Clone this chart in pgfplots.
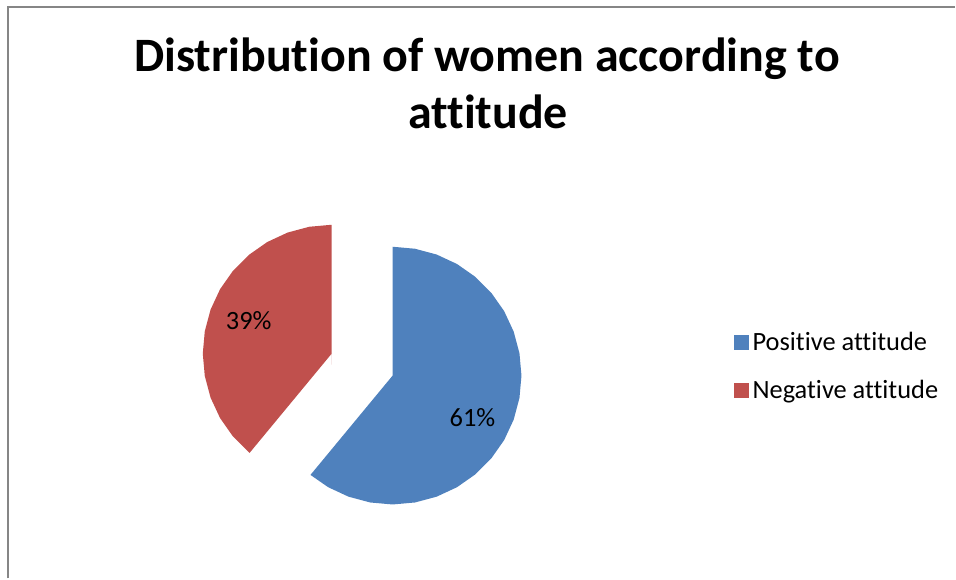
\documentclass[border=0pt]{standalone}
\usepackage{pgfplots}
\pgfplotsset{compat=1.18}
\usepackage{fontspec}
\setmainfont{Carlito}[Ligatures={NoCommon}]
\definecolor{posblue}{HTML}{4F81BD}
\definecolor{negred}{HTML}{C0504D}
\definecolor{framegray}{HTML}{868686}
\begin{document}
\begin{tikzpicture}
\begin{axis}[
  width=478pt, height=289.5pt, scale only axis,
  xmin=-362.5, xmax=593.5, ymin=-214, ymax=365,
  hide axis, clip=false,
  legend style={at={(axis cs:371.5,37)}, anchor=north west, draw=none, fill=none,
    font=\fontsize{13.2}{15}\selectfont, row sep=9.5pt,
    legend cell align=left, inner sep=0pt},
  legend image code/.code={\path[#1,draw=none] (-1.5pt,-3.75pt) rectangle (6pt,3.75pt);},
]
\path (axis cs:-362.5,-214) rectangle (axis cs:593.5,365);
% Positive attitude 61% (exploded slice)
\addplot[fill=posblue, draw=none] coordinates {
(30.5,-11) (30.5,118) (52.9,116) (74.6,110.2) (95,100.7) (113.4,87.8) (129.3,71.9)
(142.2,53.5) (151.7,33.1) (157.5,11.4) (159.5,-11) (157.5,-33.4) (151.7,-55.1)
(142.2,-75.5) (129.3,-93.9) (113.4,-109.8) (95,-122.7) (74.6,-132.2) (52.9,-138)
(30.5,-140) (8.1,-138) (-13.6,-132.2) (-34,-122.7) (-51.7,-110.4) (30.5,-11)} \closedcycle;
\addlegendentry{Positive attitude}
% Negative attitude 39% (exploded slice)
\addplot[fill=negred, draw=none] coordinates {
(-30.5,11) (-30.5,140) (-52.9,138) (-74.6,132.2) (-95,122.7) (-113.4,109.8)
(-129.3,93.9) (-142.2,75.5) (-151.7,55.1) (-157.5,33.4) (-159.5,11) (-157.5,-11.4)
(-151.7,-33.1) (-142.2,-53.5) (-129.3,-71.9) (-112.7,-88.4) (-30.5,11)} \closedcycle;
\addlegendentry{Negative attitude}
% frame
\draw[framegray, line width=1pt] (axis cs:-354.5,-214) -- (axis cs:-354.5,358) -- (axis cs:593.5,358);
% title
\node[anchor=base, font=\fontsize{24}{28}\selectfont\bfseries, inner sep=0pt] at (axis cs:125,293) {Distribution of women according to};
\node[anchor=base, font=\fontsize{24}{28}\selectfont\bfseries, inner sep=0pt] at (axis cs:126,236) {attitude};
% data labels
\node[font=\fontsize{13.2}{15}\selectfont] at (axis cs:-113.5,44) {39\%};
\node[font=\fontsize{13.2}{15}\selectfont] at (axis cs:110.5,-53) {61\%};
\end{axis}
\end{tikzpicture}
\end{document}
